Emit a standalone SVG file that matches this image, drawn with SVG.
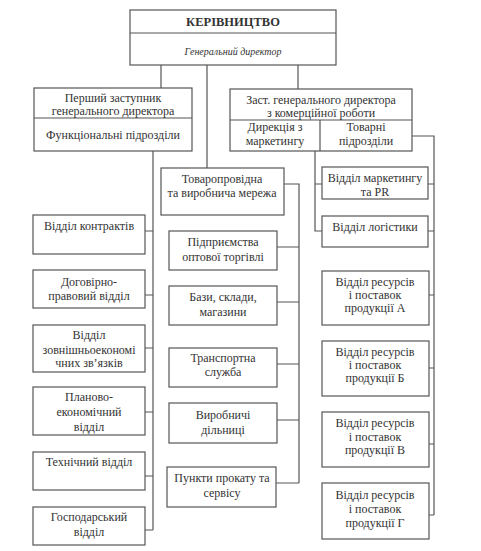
<svg xmlns="http://www.w3.org/2000/svg" width="481" height="551" viewBox="0 0 481 551">
<style>
rect{fill:#fff;stroke:#555;stroke-width:1.2}
line,path{fill:none;stroke:#555;stroke-width:1.2}
text{font-size:12px;fill:#333;text-anchor:middle}
.b{font-weight:bold;font-size:12.5px}
.i{font-style:italic;font-size:10px}
</style>
<rect x="0" y="0" width="481" height="551" style="fill:#fff;stroke:none"/>
<g id="connectors">
<path d="M161,65V88M207,65V168M298,65V89"/>
<path d="M153,151V530M145,231H153M145,295H153M145,348H153M145,412H153M145,476H153M145,530H153"/>
<path d="M284,184H299V483M277,247H299M277,302H299M277,364H299M277,420H299M276,483H299"/>
<path d="M315,151V231H322M315,184H322"/>
<path d="M412,136H434V515M428,184H434M428,231H434M428,295H434M428,368H434M428,444H434M428,515H434"/>
</g>
<g font-family="'Liberation Serif', 'DejaVu Serif', serif">
<g id="top">
<rect x="130" y="10" width="206" height="55"/>
<line x1="130" y1="33" x2="336" y2="33"/>
<text class="b" x="233" y="26">КЕРІВНИЦТВО</text>
<text class="i" x="233" y="55">Генеральний директор</text>
</g>
<g id="first-deputy">
<rect x="34" y="88" width="158" height="63"/>
<line x1="34" y1="118" x2="192" y2="118"/>
<text x="113" y="102">Перший заступник</text>
<text x="113" y="115">генерального директора</text>
<text x="113" y="139">Функціональні підрозділи</text>
</g>
<g id="commercial-deputy">
<rect x="230" y="89" width="182" height="62"/>
<line x1="230" y1="120" x2="412" y2="120"/>
<line x1="320" y1="120" x2="320" y2="151"/>
<text x="321" y="104">Заст. генерального директора</text>
<text x="321" y="117">з комерційної роботи</text>
<text x="275" y="131">Дирекція з</text>
<text x="275" y="145">маркетингу</text>
<text x="366" y="131">Товарні</text>
<text x="366" y="145">підрозділи</text>
</g>
<g id="trade-network">
<rect x="161" y="168" width="123" height="47"/>
<text x="222" y="183">Товаропровідна</text>
<text x="222" y="197">та виробнича мережа</text>
</g>
<g id="wholesale">
<rect x="169" y="231" width="108" height="39"/>
<text x="223" y="246">Підприємства</text>
<text x="223" y="261">оптової торгівлі</text>
</g>
<g id="bases">
<rect x="169" y="286" width="108" height="39"/>
<text x="223" y="301">Бази, склади,</text>
<text x="223" y="316">магазини</text>
</g>
<g id="transport">
<rect x="169" y="348" width="108" height="39"/>
<text x="223" y="362">Транспортна</text>
<text x="223" y="376">служба</text>
</g>
<g id="production">
<rect x="169" y="403" width="108" height="40"/>
<text x="223" y="419">Виробничі</text>
<text x="223" y="434">дільниці</text>
</g>
<g id="rental">
<rect x="167" y="467" width="109" height="40"/>
<text x="222" y="482">Пункти прокату та</text>
<text x="222" y="497">сервісу</text>
</g>
<g id="marketing-pr">
<rect x="322" y="167" width="106" height="32"/>
<text x="375" y="182">Відділ маркетингу</text>
<text x="375" y="196">та PR</text>
</g>
<g id="logistics">
<rect x="322" y="216" width="106" height="31"/>
<text x="375" y="231">Відділ логістики</text>
</g>
<g id="res-a">
<rect x="322" y="271" width="107" height="54"/>
<text x="375" y="286">Відділ ресурсів</text>
<text x="375" y="299">і поставок</text>
<text x="375" y="312">продукції А</text>
</g>
<g id="res-b">
<rect x="322" y="341" width="107" height="55"/>
<text x="375" y="356">Відділ ресурсів</text>
<text x="375" y="369">і поставок</text>
<text x="375" y="382">продукції Б</text>
</g>
<g id="res-v">
<rect x="322" y="412" width="107" height="55"/>
<text x="375" y="427">Відділ ресурсів</text>
<text x="375" y="441">і поставок</text>
<text x="375" y="454">продукції В</text>
</g>
<g id="res-g">
<rect x="322" y="483" width="107" height="56"/>
<text x="375" y="499">Відділ ресурсів</text>
<text x="375" y="513">і поставок</text>
<text x="375" y="527">продукції Г</text>
</g>
<g id="contracts">
<rect x="33" y="215" width="112" height="39"/>
<text x="89" y="230">Відділ контрактів</text>
</g>
<g id="legal">
<rect x="33" y="270" width="112" height="38"/>
<text x="89" y="286">Договірно-</text>
<text x="89" y="300">правовий відділ</text>
</g>
<g id="foreign">
<rect x="33" y="325" width="112" height="47"/>
<text x="89" y="339">Відділ</text>
<text x="89" y="354">зовнішньоекономі</text>
<text x="89" y="367">чних зв’язків</text>
</g>
<g id="planning">
<rect x="33" y="387" width="112" height="48"/>
<text x="89" y="401">Планово-</text>
<text x="89" y="416">економічний</text>
<text x="89" y="431">відділ</text>
</g>
<g id="technical">
<rect x="33" y="452" width="112" height="38"/>
<text x="89" y="466">Технічний відділ</text>
</g>
<g id="household">
<rect x="33" y="507" width="112" height="38"/>
<text x="89" y="521">Господарський</text>
<text x="89" y="536">відділ</text>
</g>
</g>
</svg>
